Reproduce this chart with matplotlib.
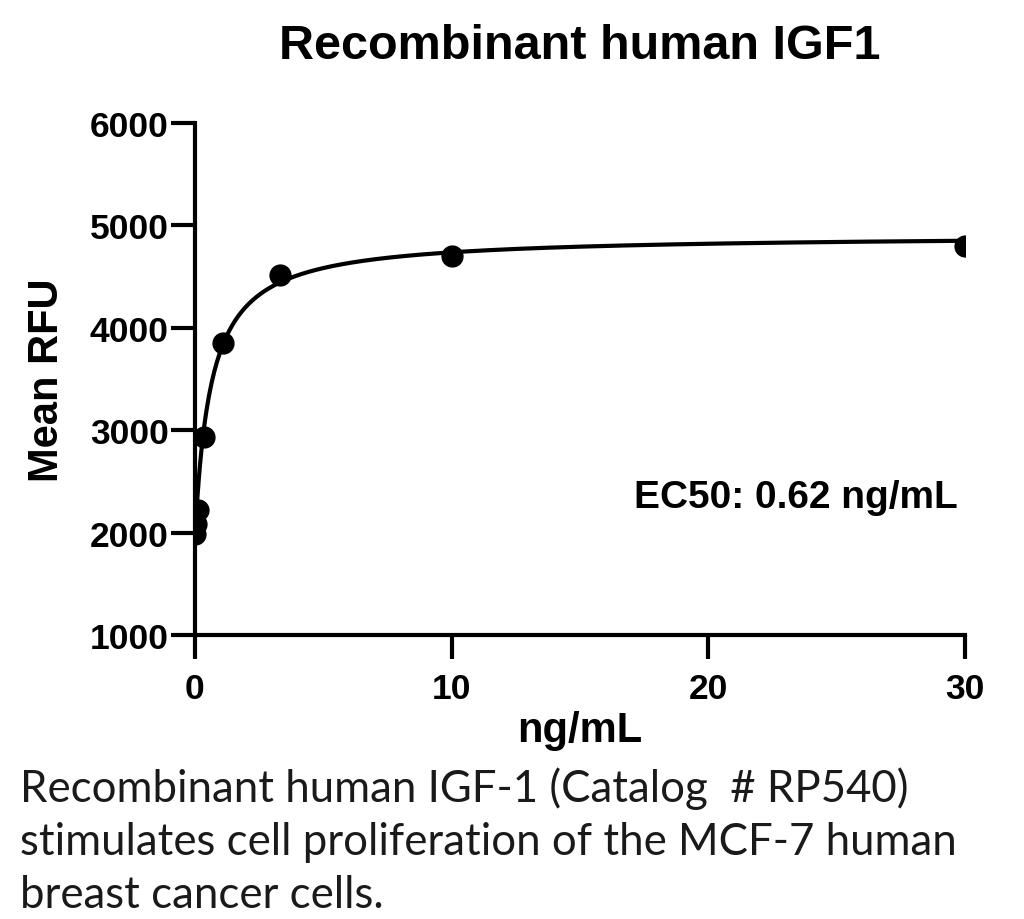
import numpy as np
import matplotlib.pyplot as plt

# measured points (3-fold dilution series, ng/mL)
conc = [0.0137, 0.041, 0.123, 0.37, 1.11, 3.33, 10.0, 30.0]
rfu = [1990, 2080, 2220, 2930, 3850, 4520, 4700, 4800]

# fitted curve parameters
bottom = 1950
top = 4910
ec50 = 0.62
hill = 1.0

xticks = [0, 10, 20, 30]
yticks = [1000, 2000, 3000, 4000, 5000, 6000]

caption = ("Recombinant human IGF-1 (Catalog  # RP540)\n"
           "stimulates cell proliferation of the MCF-7 human\n"
           "breast cancer cells.")

plt.rcParams['font.family'] = ['Liberation Sans', 'DejaVu Sans']

fig = plt.figure(figsize=(10.24, 9.2), dpi=100)
ax = fig.add_axes([0.1904, 0.3087, 0.752, 0.5565])

xfit = np.linspace(0, 30, 600)
yfit = bottom + (top - bottom) * xfit**hill / (ec50**hill + xfit**hill)
ax.plot(xfit, yfit, color='black', lw=3, zorder=2)
ax.plot(conc, rfu, 'o', color='black', ms=15, zorder=3)

ax.set_xlim(0, 30)
ax.set_ylim(1000, 6000)
ax.set_xticks(xticks)
ax.set_yticks(yticks)
ax.spines['top'].set_visible(False)
ax.spines['right'].set_visible(False)
for s in ['left', 'bottom']:
    ax.spines[s].set_linewidth(3)
ax.tick_params(width=3, length=17, labelsize=25.5)
ax.tick_params(axis='x', pad=10)
ax.tick_params(axis='y', pad=2)
for lab in ax.get_xticklabels() + ax.get_yticklabels():
    lab.set_fontweight('bold')

ax.set_xlabel('ng/mL', fontsize=30, fontweight='bold', labelpad=3)
ax.set_ylabel('Mean RFU', fontsize=30, fontweight='bold', labelpad=16)
ax.set_title('Recombinant human IGF1', fontsize=35, fontweight='bold', pad=47)
ax.text(0.99, 0.27, 'EC50: 0.62 ng/mL', transform=ax.transAxes,
        ha='right', va='center', fontsize=28, fontweight='bold')

fig.text(0.02, 0.085, caption, ha='left', va='center', fontsize=31.5,
         family=['Lato', 'DejaVu Sans'], color='#1a1a1a', linespacing=1.36)

fig.savefig('out.png', dpi=100)
